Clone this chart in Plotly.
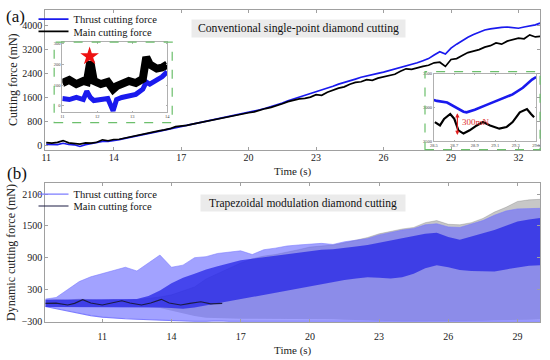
import plotly.graph_objects as go

W, H = 550, 360
def PX(p): return p / W
def PY(p): return 1 - p / H

FONT = "Liberation Serif"

# ---------------- Panel (a): conventional cutting ----------------
t_a = [11.00, 11.25, 11.50, 11.75, 12.00, 12.25, 12.50, 12.75,
       13.00, 13.25, 13.50, 13.75, 14.00, 14.25, 14.50, 14.75,
       15.00, 15.25, 15.50, 15.75, 16.00, 16.25, 16.50, 16.75,
       17.00, 17.25, 17.50, 17.75, 18.00, 18.25, 18.50, 18.75,
       19.00, 19.25, 19.50, 19.75, 20.00, 20.25, 20.50, 20.75,
       21.00, 21.25, 21.50, 21.75, 22.00, 22.25, 22.50, 22.75,
       23.00, 23.25, 23.50, 23.75, 24.00, 24.25, 24.50, 24.75,
       25.00, 25.25, 25.50, 25.75, 26.00, 26.25, 26.50, 26.75,
       27.00, 27.25, 27.50, 27.75, 28.00, 28.25, 28.50, 28.75,
       29.00, 29.25, 29.50, 29.75, 30.00, 30.25, 30.50, 30.75,
       31.00, 31.25, 31.50, 31.75, 32.00, 32.25, 32.50, 32.75,
       32.96]
thrust_a = [50, 45, 40, 85, 45, 35, -20, 40,
            70, 100, 150, 150, 170, 205, 250, 285,
            330, 370, 410, 440, 480, 520, 560, 600,
            640, 680, 720, 750, 790, 830, 870, 905,
            940, 980, 1020, 1060, 1100, 1150, 1200, 1250,
            1300, 1360, 1420, 1500, 1560, 1610, 1660, 1720,
            1780, 1840, 1900, 1980, 2050, 2100, 2160, 2220,
            2280, 2330, 2370, 2410, 2450, 2500, 2540, 2600,
            2660, 2710, 2760, 2830, 2900, 3020, 3130, 3050,
            3250, 3380, 3500, 3610, 3700, 3780, 3850, 3890,
            3920, 3940, 3950, 3930, 3910, 3950, 3990, 4020,
            4080]
main_a = [110, 90, 115, 175, 100, 85, 60, 100,
          90, 120, 200, 170, 210, 220, 260, 300,
          350, 400, 430, 460, 500, 530, 570, 640,
          650, 680, 720, 760, 790, 820, 880, 900,
          940, 990, 1030, 1060, 1100, 1130, 1190, 1240,
          1280, 1330, 1400, 1470, 1520, 1560, 1580, 1620,
          1700, 1680, 1780, 1850, 1920, 1960, 2050, 2110,
          2130, 2200, 2180, 2250, 2300, 2340, 2380, 2480,
          2560, 2540, 2600, 2640, 2680, 2760, 2780, 2640,
          2870, 2900, 3000, 3100, 3150, 3200, 3280, 3330,
          3420, 3380, 3480, 3520, 3580, 3560, 3690, 3620,
          3640]

# inset 1 (11-14 s)
t_in1 = [11.0, 11.2, 11.4, 11.6, 11.7, 11.8, 11.9, 12.1, 12.3, 12.45, 12.55, 12.7, 12.9,
         13.1, 13.3, 13.4, 13.5, 13.7, 13.85, 14.0]
main_in1 = [110, 125, 105, 120, 115, 215, 120, 105, 115, 80, 95, 110, 120,
            110, 130, 235, 200, 180, 185, 200]
thrust_in1 = [35, 30, 40, 30, 70, 40, 25, 30, 35, -25, 30, 40, 45,
              55, 80, 115, 105, 125, 140, 165]
star_t = [11.78]
star_v = [240]

# inset 2 (28.5-29.5 s)
t_in2_thrust = [28.5, 28.53, 28.63, 28.72, 28.79, 28.82, 28.90, 29.01, 29.14, 29.27, 29.37, 29.46, 29.5]
thrust_in2 = [3110, 3097, 3073, 3000, 2936, 2927, 2965, 3034, 3111, 3194, 3292, 3414, 3453]
t_in2_main = [28.51, 28.56, 28.60, 28.66, 28.70, 28.74, 28.79, 28.85, 28.92, 28.98, 29.05,
              29.14, 29.21, 29.27, 29.34, 29.41, 29.45, 29.48]
main_in2 = [2781, 2731, 2829, 2902, 2829, 2658, 2610, 2658, 2731, 2781, 2731,
            2683, 2707, 2781, 2927, 2975, 2902, 2854]

# ---------------- Panel (b): trapezoidal modulation ----------------
t_b = [8.53, 9.0, 9.5, 10.0, 10.5, 11.0, 11.5, 12.0, 12.5, 13.0, 13.5, 14.0, 14.5, 15.0,
       15.5, 16.0, 16.5, 17.0, 17.5, 18.0, 18.5, 19.0, 19.5, 20.0, 20.5, 21.0, 21.5, 22.0,
       22.5, 23.0, 23.5, 24.0, 24.5, 25.0, 25.5, 26.0, 26.5, 27.0, 27.5, 28.0, 28.5, 29.0,
       29.5, 29.98]
thrust_hi_b = [120, 150, 300, 450, 540, 600, 660, 720, 650, 800, 950, 720, 760, 900,
               920, 980, 1000, 1030, 960, 1050, 1080, 1120, 1140, 1160, 1170, 1150, 1200, 1230,
               1260, 1330, 1380, 1420, 1450, 1520, 1540, 1480, 1470, 1530, 1600, 1700, 1780, 1820,
               1820, 1830]
thrust_lo_b = [-20, -60, -110, -150, -190, -220, -240, -250, -260, -270, -280, -290, -295, -300,
               -300, -290, -300, -300, -300, -300, -295, -300, -300, -300, -300, -300, -290, -300,
               -300, -300, -300, -300, -300, -300, -300, -300, -300, -300, -300, -300, -300, -300,
               -300, -300]
core_hi_b = [110, 110, 110, 110, 110, 110, 110, 115, 120, 180, 280, 420, 520, 600,
             680, 740, 790, 850, 880, 910, 930, 960, 990, 1030, 1050, 1060, 1080, 1110,
             1140, 1180, 1220, 1260, 1300, 1350, 1370, 1290, 1240, 1300, 1350, 1420, 1500, 1580,
             1620, 1650]
core_lo_b = [-30, -30, -30, -30, -30, -30, -30, -30, -30, -30, -40, -50, -60, -40,
             0, 40, 80, 120, 160, 210, 250, 290, 330, 370, 410, 450, 480, 510,
             530, 520, 510, 530, 600, 700, 760, 720, 670, 650, 640, 640, 680, 720,
             750, 760]
main_hi_b = [100, 110, 100, 120, 110, 100, 110, 100, 110, 130, 160, 200, 280, 350,
             500, 600, 700, 800, 880, 930, 960, 1000, 1050, 1100, 1120, 1140, 1180, 1230,
             1280, 1350, 1400, 1440, 1470, 1560, 1600, 1530, 1520, 1560, 1640, 1760, 1850, 1960,
             1990, 2000]
main_lo_b = [-30, -30, -40, -30, -40, -40, -30, -40, -40, -30, -50, -100, -150, -200,
             -230, -240, -250, -250, -250, -250, -250, -260, -260, -260, -260, -260, -270, -270,
             -280, -290, -300, -300, -300, -300, -300, -300, -300, -300, -290, -280, -280, -270,
             -270, -260]
t_m = [8.53, 9.0, 9.5, 9.8, 10.15, 10.5, 11.0, 11.4, 11.85, 12.2, 12.7, 13.1, 13.56, 13.9,
       14.4, 14.8, 15.27, 15.7, 16.2]
main_line_b = [40, 45, 10, 40, 110, 45, 10, 45, 90, 45, 10, 45, 115, 45,
               10, 40, 70, 30, 40]

xticks_a = [11, 14, 17, 20, 23, 26, 29, 32]
yticks_a = [0, 800, 1600, 2400, 3200, 4000]
xticks_b = [11, 14, 17, 20, 23, 26, 29]
yticks_b = [-300, 300, 900, 1500, 2100]

BLUE = "#1a1aee"
fig = go.Figure()

# panel (a)
fig.add_trace(go.Scatter(x=t_a, y=thrust_a, mode="lines", line=dict(color=BLUE, width=1.7),
                         name="Thrust cutting force", legend="legend", xaxis="x", yaxis="y"))
fig.add_trace(go.Scatter(x=t_a, y=main_a, mode="lines", line=dict(color="black", width=1.7),
                         name="Main cutting force", legend="legend2", xaxis="x", yaxis="y"))
# inset 1
fig.add_trace(go.Scatter(x=t_in1, y=thrust_in1, mode="lines", line=dict(color=BLUE, width=5),
                         showlegend=False, xaxis="x3", yaxis="y3"))
fig.add_trace(go.Scatter(x=t_in1, y=main_in1, mode="lines", line=dict(color="black", width=8),
                         showlegend=False, xaxis="x3", yaxis="y3"))
fig.add_trace(go.Scatter(x=star_t, y=star_v, mode="markers",
                         marker=dict(symbol="star", size=14, color="#ee1111"),
                         showlegend=False, xaxis="x3", yaxis="y3"))
# inset 2
fig.add_trace(go.Scatter(x=t_in2_thrust, y=thrust_in2, mode="lines", line=dict(color=BLUE, width=2.6),
                         showlegend=False, xaxis="x4", yaxis="y4"))
fig.add_trace(go.Scatter(x=t_in2_main, y=main_in2, mode="lines", line=dict(color="black", width=2.2),
                         showlegend=False, xaxis="x4", yaxis="y4"))

# panel (b)
fig.add_trace(go.Scatter(x=t_b, y=main_lo_b, mode="lines", line=dict(width=0),
                         showlegend=False, hoverinfo="skip", xaxis="x2", yaxis="y2"))
fig.add_trace(go.Scatter(x=t_b, y=main_hi_b, mode="lines", line=dict(width=0.5, color="rgba(90,90,90,0.5)"),
                         fill="tonexty", fillcolor="rgba(70,70,70,0.3)",
                         showlegend=False, xaxis="x2", yaxis="y2"))
fig.add_trace(go.Scatter(x=t_b, y=thrust_lo_b, mode="lines", line=dict(width=1.2, color="rgba(125,125,255,1)"),
                         name="Thrust cutting force", legend="legend3", xaxis="x2", yaxis="y2"))
fig.add_trace(go.Scatter(x=t_b, y=thrust_hi_b, mode="lines", line=dict(width=0.6, color="rgba(120,120,255,0.9)"),
                         fill="tonexty", fillcolor="rgba(100,100,255,0.6)",
                         showlegend=False, xaxis="x2", yaxis="y2"))
fig.add_trace(go.Scatter(x=t_b, y=core_lo_b, mode="lines", line=dict(width=0),
                         showlegend=False, hoverinfo="skip", xaxis="x2", yaxis="y2"))
fig.add_trace(go.Scatter(x=t_b, y=core_hi_b, mode="lines", line=dict(width=0),
                         fill="tonexty", fillcolor="rgba(25,25,228,0.68)",
                         showlegend=False, xaxis="x2", yaxis="y2"))
fig.add_trace(go.Scatter(x=t_m, y=main_line_b, mode="lines", line=dict(color="#1c1c44", width=1.1),
                         name="Main cutting force", legend="legend4", xaxis="x2", yaxis="y2"))

axis_common = dict(showline=True, linecolor="#a0a0a0", linewidth=1, mirror="ticks",
                   ticks="inside", ticklen=3, tickcolor="#a0a0a0", showgrid=False, zeroline=False,
                   tickfont=dict(family=FONT, size=10, color="#222"))
title_font = dict(family=FONT, size=12, color="#222")
time_font = dict(family=FONT, size=11, color="#222")
inset_common = dict(showline=True, linecolor="#b0b0b0", linewidth=0.8, mirror="ticks",
                    ticks="inside", ticklen=1.5, tickcolor="#b0b0b0", showgrid=False, zeroline=False,
                    tickfont=dict(family=FONT, size=4.5, color="#444"))

leg_common = dict(xanchor="left", yanchor="middle", bgcolor="rgba(0,0,0,0)", borderwidth=0,
                  font=dict(family=FONT, size=10.5, color="#111"), itemwidth=30)

fig.update_layout(
    width=W, height=H, margin=dict(l=0, r=0, t=0, b=0),
    paper_bgcolor="white", plot_bgcolor="white",
    font=dict(family=FONT),
    xaxis=dict(domain=[PX(42), PX(545)], range=[10.96, 32.96], tickvals=xticks_a,
               anchor="y", ticklabelstandoff=-2,
               title=dict(text="Time (s)", font=time_font, standoff=5), **axis_common),
    yaxis=dict(domain=[PY(150.5), PY(8)], range=[-124, 4521], tickvals=yticks_a, anchor="x",
               title=dict(text="Cutting force (mN)", font=title_font, standoff=2), **axis_common),
    xaxis2=dict(domain=[PX(42), PX(545)], range=[8.53, 29.98], tickvals=xticks_b,
                anchor="y2", ticklabelstandoff=5,
                title=dict(text="Time (s)", font=time_font, standoff=5), **axis_common),
    yaxis2=dict(domain=[PY(326), PY(185)], range=[-305, 2300], tickvals=yticks_b, anchor="x2",
                title=dict(text="Dynamic cutting force (mN)", font=title_font, standoff=3), **axis_common),
    xaxis3=dict(domain=[PX(59.3), PX(166)], range=[11, 14], tickvals=[11, 12, 13, 14],
                anchor="y3", **inset_common),
    yaxis3=dict(domain=[PY(112.3), PY(41)], range=[-31, 308], tickvals=[0, 100, 200, 300],
                anchor="x3", **inset_common),
    xaxis4=dict(domain=[PX(437), PX(541)], range=[28.5, 29.5],
                tickvals=[28.5, 28.7, 28.9, 29.1, 29.3, 29.5], anchor="y4", **inset_common),
    yaxis4=dict(domain=[PY(141.7), PY(73.3)], range=[2500, 3500], tickvals=[2500, 3000, 3500],
                anchor="x4", **inset_common),
    legend=dict(x=PX(30), y=PY(17.5), **leg_common),
    legend2=dict(x=PX(30), y=PY(30), **leg_common),
    legend3=dict(x=PX(30), y=PY(196), **leg_common),
    legend4=dict(x=PX(30), y=PY(208), **leg_common),
    shapes=[
        dict(type="rect", xref="paper", yref="paper", x0=PX(51), x1=PX(171), y0=PY(123), y1=PY(41),
             line=dict(color="#6cbf6c", width=1.2, dash="dash")),
        dict(type="rect", xref="paper", yref="paper", x0=PX(428), x1=PX(545), y0=PY(150.5), y1=PY(71),
             line=dict(color="#6cbf6c", width=1.2, dash="dash")),
    ],
    annotations=[
        dict(text="(a)", x=PX(12), y=PY(15), xref="paper", yref="paper", showarrow=False,
             xanchor="center", yanchor="middle", font=dict(family=FONT, size=17, color="#111")),
        dict(text="(b)", x=PX(13), y=PY(175), xref="paper", yref="paper", showarrow=False,
             xanchor="center", yanchor="middle", font=dict(family=FONT, size=17, color="#111")),
        dict(text="Conventional single-point diamond cutting", x=PX(299.5), y=PY(27.5),
             xref="paper", yref="paper", showarrow=False, bgcolor="#ebebeb", width=211, height=15,
             xanchor="center", yanchor="middle", font=dict(family=FONT, size=11.7, color="#111")),
        dict(text="Trapezoidal modulation diamond cutting", x=PX(304), y=PY(204.5),
             xref="paper", yref="paper", showarrow=False, bgcolor="#ebebeb", width=202, height=14,
             xanchor="center", yanchor="middle", font=dict(family=FONT, size=11.5, color="#111")),
        dict(x=28.73, y=2590, ax=28.73, ay=2935, xref="x4", yref="y4", axref="x4", ayref="y4",
             showarrow=True, arrowhead=2, arrowside="end+start", arrowsize=0.7, arrowwidth=1.2,
             arrowcolor="#e02020", text=""),
        dict(text="300mN", x=28.76, y=2785, xref="x4", yref="y4", showarrow=False, xanchor="left",
             font=dict(family=FONT, size=9, color="#e03030")),
    ],
)

fig.write_html("out.html", config={"displayModeBar": False},
               post_script="document.body.style.margin='0px';")
